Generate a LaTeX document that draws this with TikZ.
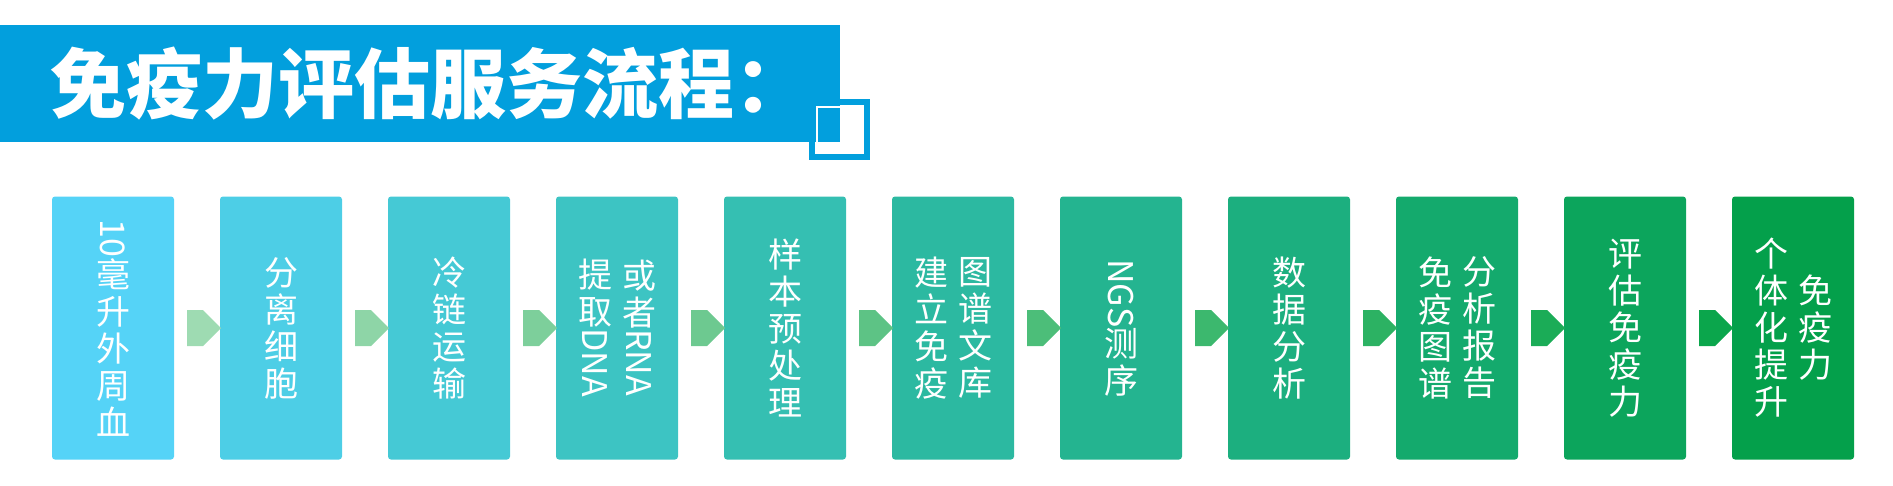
\documentclass[tikz,border=0pt]{standalone}
\usepackage{fontspec}
\usetikzlibrary{shapes.arrows,calc}
\newfontfamily\cjk{Noto Sans CJK SC}
\definecolor{titleblue}{HTML}{029FDD}
\definecolor{bA}{HTML}{55D3F7}
\definecolor{bB}{HTML}{04A04B}
\definecolor{aA}{HTML}{9EDBB2}
\definecolor{aB}{HTML}{0BA64C}
\newcommand{\rl}[1]{\rotatebox[origin=c]{-90}{#1}}
\tikzset{
  stepbox/.style={fill=#1, rounded corners=3pt, minimum width=122pt, minimum height=263pt, inner sep=0pt},
  vtext/.style={text=white, font=\cjk\fontsize{34}{37}\selectfont, align=center, inner sep=0pt},
  flowarrow/.style={single arrow, fill=#1, minimum height=34pt, minimum width=36pt, single arrow head extend=0pt, single arrow tip angle=90, inner sep=0pt, shape border uses incircle},
}
\begin{document}
\begin{tikzpicture}[x=1pt,y=1pt]
\useasboundingbox (0,0) rectangle (1893,-485);
% title
\fill[titleblue] (0,-25) rectangle (840,-142);
\draw[titleblue, line width=6pt] (812,-102) rectangle (867,-157);
\draw[white, line width=1.5pt] (817,-107) rectangle (862,-152);
\node[anchor=west, text=white, font=\cjk\bfseries\fontsize{76}{84}\selectfont, inner sep=0pt] (title) at (50,-84) {免疫力评估服务流程：};
% boxes
\foreach \i in {1,...,11}{
  \pgfmathsetmacro{\p}{100-(\i-1)*10}
  \colorlet{bc}{bA!\p!bB}
  \node[stepbox=bc] (b\i) at ({113+(\i-1)*168},-328) {};
}
\foreach \i in {1,...,10}{
  \pgfmathsetmacro{\p}{100-(\i-1)*100/9}
  \colorlet{ac}{aA!\p!aB}
  \pgfmathtruncatemacro{\j}{\i+1}
  \node[flowarrow=ac] (a\i) at ($(b\i.east)!0.5!(b\j.west)+(-2,0)$) {};
}
% texts
\node[vtext] (t1) at (b1.center) {\rl{10}\\毫\\升\\外\\周\\血};
\node[vtext] (t2) at (b2.center) {分\\离\\细\\胞};
\node[vtext] (t3) at (b3.center) {冷\\链\\运\\输};
\node[vtext] (t4r) at ([xshift=22]b4.center) {或\\者\\\rl{RNA}};
\node[vtext] (t4l) at ([xshift=-22]b4.center) {提\\取\\\rl{DNA}};
\node[vtext] (t5) at (b5.center) {样\\本\\预\\处\\理};
\node[vtext] (t6r) at ([xshift=22]b6.center) {图\\谱\\文\\库};
\node[vtext] (t6l) at ([xshift=-22]b6.center) {建\\立\\免\\疫};
\node[vtext] (t7) at (b7.center) {\rl{NGS}\\测\\序};
\node[vtext] (t8) at (b8.center) {数\\据\\分\\析};
\node[vtext] (t9r) at ([xshift=22]b9.center) {分\\析\\报\\告};
\node[vtext] (t9l) at ([xshift=-22]b9.center) {免\\疫\\图\\谱};
\node[vtext] (t10) at (b10.center) {评\\估\\免\\疫\\力};
\node[vtext] (t11r) at ([xshift=22]b11.center) {免\\疫\\力};
\node[vtext] (t11l) at ([xshift=-22]b11.center) {个\\体\\化\\提\\升};
\end{tikzpicture}
\end{document}
